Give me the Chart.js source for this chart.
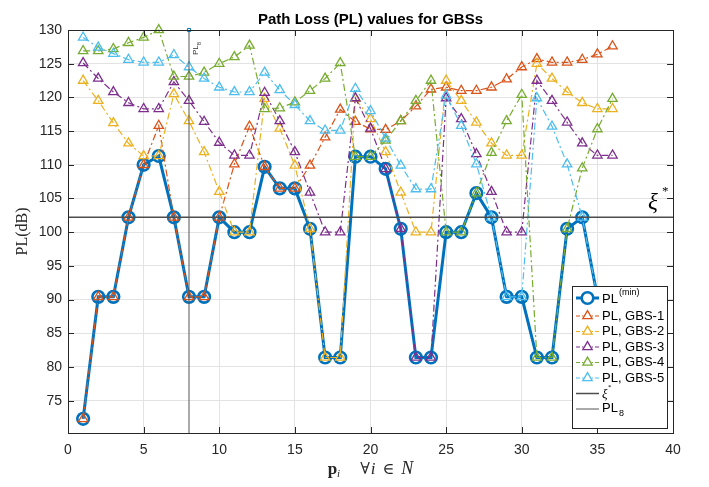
<!DOCTYPE html>
<html>
<head>
<meta charset="utf-8">
<script src="https://cdn.jsdelivr.net/npm/chart.js@4.4.1/dist/chart.umd.min.js"></script>
<style>
  html, body { margin: 0; padding: 0; background: #fff; }
  #wrap { width: 709px; height: 487px; }
</style>
</head>
<body>
<div id="wrap"><canvas id="plChart" width="709" height="487"></canvas></div>
<script>
// point index i (p_i)
const pointIdx = [1, 2, 3, 4, 5, 6, 7, 8, 9, 10, 11, 12, 13, 14, 15, 16, 17, 18,
                  19, 20, 21, 22, 23, 24, 25, 26, 27, 28, 29, 30, 31, 32, 33, 34, 35, 36];

const plMin = [72.3, 90.4, 90.4, 102.2, 110.0, 111.3, 102.2, 90.4, 90.4, 102.2, 100.0, 100.0,
               109.7, 106.5, 106.5, 100.5, 81.4, 81.4, 111.2, 111.2, 109.4, 100.5, 81.4, 81.4,
               100.0, 100.0, 105.8, 102.2, 90.4, 90.4, 81.4, 81.4, 100.5, 102.2, 90.4, 90.4];
const plGbs1 = [72.3, 90.4, 90.4, 102.2, 110.0, 115.8, 102.2, 90.4, 90.4, 102.2, 110.1, 115.7,
                109.7, 106.5, 106.5, 109.9, 114.1, 118.2, 116.4, 115.3, 115.2, 116.5, 118.7, 121.2,
                121.5, 121.0, 121.0, 121.5, 122.7, 124.5, 125.7, 125.2, 125.2, 125.6, 126.4, 127.6];
const plGbs2 = [122.5, 119.5, 116.2, 113.2, 111.3, 111.3, 120.5, 116.5, 111.9, 106.0, 100.0, 100.0,
                119.8, 115.4, 109.9, 100.5, 81.4, 81.4, 119.8, 116.8, 111.9, 105.9, 100.0, 100.0,
                122.5, 119.5, 116.3, 113.2, 111.4, 111.4, 125.0, 122.8, 120.8, 119.2, 118.3, 118.3];
const plGbs3 = [125.1, 122.8, 120.8, 119.2, 118.3, 118.3, 122.3, 119.5, 116.4, 113.3, 111.4, 111.4,
                120.7, 116.5, 111.9, 105.9, 100.0, 100.0, 119.9, 115.4, 109.4, 100.5, 81.4, 81.4,
                119.9, 116.8, 111.6, 106.0, 100.0, 100.0, 122.5, 119.5, 116.3, 113.2, 111.4, 111.4];
const plGbs4 = [126.9, 126.9, 127.2, 128.1, 128.9, 130.0, 123.1, 123.1, 123.7, 125.0, 126.0, 127.7,
                118.3, 118.4, 119.3, 121.0, 122.8, 125.1, 111.2, 111.2, 113.6, 116.5, 119.5, 122.5,
                100.0, 100.0, 105.8, 111.8, 116.5, 120.4, 81.4, 81.4, 100.5, 109.5, 115.3, 119.8];
const plGbs5 = [128.9, 127.4, 126.5, 125.6, 125.2, 125.2, 126.3, 124.5, 122.8, 121.5, 120.8, 120.8,
                123.7, 121.1, 118.9, 116.5, 115.1, 115.1, 121.3, 118.0, 113.9, 109.9, 106.4, 106.4,
                120.3, 115.8, 110.1, 102.2, 90.4, 90.4, 119.9, 115.7, 110.1, 102.2, 90.4, 90.4];

const xiStar = 102.2;     // threshold line
const pl8Index = 8;       // vertical line at p_8
const xTicks = [0, 5, 10, 15, 20, 25, 30, 35, 40];
const yTicks = [75, 80, 85, 90, 95, 100, 105, 110, 115, 120, 125, 130];
const xRange = [0, 40];
const yRange = [70.2, 130];

const gbsNames = ["PL, GBS-1", "PL, GBS-2", "PL, GBS-3", "PL, GBS-4", "PL, GBS-5"];
const gbsColors = ["#D95319", "#EDB120", "#7E2F8E", "#77AC30", "#4DBEEE"];
const gbsSeries = [plGbs1, plGbs2, plGbs3, plGbs4, plGbs5];
const minColor = "#0072BD";
const dashDot = [7, 3, 2, 3];

const sansFont = "'Liberation Sans', Arial, Helvetica, sans-serif";
const serifFont = "'Liberation Serif', 'DejaVu Serif', serif";
const axisColor = "#262626";

function toPoints(values) {
    return values.map((v, i) => ({ x: pointIdx[i], y: v }));
}

const datasets = [
    {
        label: "PL(min)",
        data: toPoints(plMin),
        borderColor: minColor,
        borderWidth: 3,
        pointStyle: "circle",
        pointRadius: 5.8,
        pointBorderWidth: 2.6,
        pointBackgroundColor: "rgba(0,0,0,0)",
        pointBorderColor: minColor,
        order: 10,
        clip: false,
    },
];
gbsSeries.forEach((vals, k) => {
    datasets.push({
        label: gbsNames[k],
        data: toPoints(vals),
        borderColor: gbsColors[k],
        borderWidth: 1.2,
        borderDash: dashDot,
        pointStyle: "triangle",
        pointRadius: 5.4,
        pointBorderWidth: 1.3,
        pointBackgroundColor: "rgba(0,0,0,0)",
        pointBorderColor: gbsColors[k],
        order: 9 - k,
        clip: false,
    });
});
datasets.push({
    label: "xi",
    data: [{ x: xRange[0], y: xiStar }, { x: xRange[1], y: xiStar }],
    borderColor: "#4d4d4d",
    borderWidth: 1.5,
    pointRadius: 0,
    order: 1,
});
datasets.push({
    label: "PL8",
    data: [{ x: pl8Index, y: yRange[0] }, { x: pl8Index, y: yRange[1] }],
    borderColor: "#555555",
    borderWidth: 1,
    pointStyle: "rect",
    pointRadius: [0, 2.2],
    pointBorderWidth: 1,
    pointBorderColor: minColor,
    pointBackgroundColor: "#ffffff",
    order: 0,
    clip: false,
});

// draw one legend sample (line + marker)
function legendSample(ctx, x0, x1, y, color, width, dash, marker) {
    ctx.save();
    ctx.strokeStyle = color;
    ctx.lineWidth = width;
    ctx.setLineDash(dash);
    ctx.beginPath();
    ctx.moveTo(x0, y);
    ctx.lineTo(x1, y);
    ctx.stroke();
    ctx.setLineDash([]);
    const cx = (x0 + x1) / 2;
    if (marker === "circle") {
        ctx.fillStyle = "#fff";
        ctx.lineWidth = 2.6;
        ctx.beginPath();
        ctx.arc(cx, y, 5.8, 0, Math.PI * 2);
        ctx.fill();
        ctx.stroke();
    } else if (marker === "triangle") {
        const r = 5.4;
        ctx.fillStyle = "#fff";
        ctx.lineWidth = 1.3;
        ctx.beginPath();
        let rad = 0;
        ctx.moveTo(cx + Math.sin(rad) * r, y - Math.cos(rad) * r);
        rad += 2 * Math.PI / 3;
        ctx.lineTo(cx + Math.sin(rad) * r, y - Math.cos(rad) * r);
        rad += 2 * Math.PI / 3;
        ctx.lineTo(cx + Math.sin(rad) * r, y - Math.cos(rad) * r);
        ctx.closePath();
        ctx.fill();
        ctx.stroke();
    }
    ctx.restore();
}

const decorPlugin = {
    id: "decor",
    afterDraw(chart) {
        const ctx = chart.ctx;
        const area = chart.chartArea;
        const xs = chart.scales.x;
        const ys = chart.scales.y;
        ctx.save();

        // box + inward ticks on all four sides
        ctx.strokeStyle = axisColor;
        ctx.lineWidth = 1;
        ctx.strokeRect(area.left + 0.5, area.top + 0.5, area.right - area.left, area.bottom - area.top);
        ctx.beginPath();
        xTicks.forEach((v) => {
            const px = Math.round(xs.getPixelForValue(v)) + 0.5;
            ctx.moveTo(px, area.bottom);
            ctx.lineTo(px, area.bottom - 6);
            ctx.moveTo(px, area.top);
            ctx.lineTo(px, area.top + 6);
        });
        yTicks.forEach((v) => {
            const py = Math.round(ys.getPixelForValue(v)) + 0.5;
            ctx.moveTo(area.left, py);
            ctx.lineTo(area.left + 6, py);
            ctx.moveTo(area.right, py);
            ctx.lineTo(area.right - 6, py);
        });
        ctx.stroke();

        // title
        ctx.fillStyle = "#000";
        ctx.font = "bold 15px " + sansFont;
        ctx.textAlign = "center";
        ctx.textBaseline = "alphabetic";
        ctx.fillText("Path Loss (PL) values for GBSs", (area.left + area.right) / 2, 24);

        // y axis label
        ctx.save();
        ctx.translate(27, (area.top + area.bottom) / 2);
        ctx.rotate(-Math.PI / 2);
        ctx.font = "16px " + serifFont;
        ctx.fillStyle = axisColor;
        ctx.textAlign = "center";
        ctx.fillText("PL(dB)", 0, 0);
        ctx.restore();

        // x axis label: p_i  ∀i ∈ N
        const xl = (area.left + area.right) / 2;
        const base = 474;
        ctx.fillStyle = axisColor;
        ctx.textAlign = "left";
        const parts = [
            { t: "p", f: "bold 17px " + serifFont, dy: 0, gap: 0 },
            { t: "i", f: "italic 11px " + serifFont, dy: 3, gap: 20 },
            { t: "\u2200", f: "16px 'DejaVu Serif', serif", dy: 0, gap: 1 },
            { t: "i", f: "italic 17px " + serifFont, dy: 0, gap: 7 },
            { t: "\u2208", f: "16px 'DejaVu Serif', serif", dy: 0, gap: 7 },
            { t: "N", f: "italic 18px " + serifFont, dy: 0, gap: 0 },
        ];
        let total = 0;
        parts.forEach((p) => { ctx.font = p.f; total += ctx.measureText(p.t).width + p.gap; });
        let cx = xl - total / 2;
        parts.forEach((p) => {
            ctx.font = p.f;
            ctx.fillText(p.t, cx, base + p.dy);
            cx += ctx.measureText(p.t).width + p.gap;
        });

        // xi* label at right end of the threshold line
        const yXi = ys.getPixelForValue(xiStar);
        ctx.fillStyle = "#000";
        ctx.font = "italic 23px " + serifFont;
        ctx.fillText("\u03BE", 648, yXi - 8);
        ctx.font = "13px " + serifFont;
        ctx.fillText("*", 662, yXi - 22);

        // PL_8 label next to the vertical line
        const x8 = xs.getPixelForValue(pl8Index);
        ctx.save();
        ctx.translate(x8 + 9, area.top + 25);
        ctx.rotate(-Math.PI / 2);
        ctx.fillStyle = "#333";
        ctx.font = "8px " + sansFont;
        ctx.fillText("PL", 0, 0);
        const wPL = ctx.measureText("PL").width;
        ctx.font = "6px " + sansFont;
        ctx.fillText("8", wPL, 2.5);
        ctx.restore();

        // legend box
        const lb = { l: 572, t: 286, r: 667, b: 428 };
        ctx.fillStyle = "#fff";
        ctx.fillRect(lb.l, lb.t, lb.r - lb.l, lb.b - lb.t);
        ctx.strokeStyle = axisColor;
        ctx.lineWidth = 1;
        ctx.strokeRect(lb.l + 0.5, lb.t + 0.5, lb.r - lb.l, lb.b - lb.t);

        const sx0 = 576, sx1 = 599, tx = 602;
        ctx.textBaseline = "middle";
        ctx.fillStyle = "#000";
        // PL(min)
        let ry = 298;
        legendSample(ctx, sx0, sx1, ry, minColor, 3, [], "circle");
        ctx.fillStyle = "#000";
        ctx.font = "13px " + sansFont;
        ctx.fillText("PL", tx, ry + 1);
        let w = ctx.measureText("PL").width;
        ctx.font = "9px " + sansFont;
        ctx.fillText("(min)", tx + w + 1, ry - 5);
        // GBS rows
        gbsNames.forEach((name, k) => {
            ry = 316 + 15.5 * k;
            legendSample(ctx, sx0, sx1, ry, gbsColors[k], 1.2, [4, 2, 1.5, 2], "triangle");
            ctx.fillStyle = "#000";
            ctx.font = "13px " + sansFont;
            ctx.fillText(name, tx, ry);
        });
        // xi*
        ry = 316 + 15.5 * 5;
        legendSample(ctx, sx0, sx1, ry, "#4d4d4d", 1.5, [], null);
        ctx.fillStyle = "#000";
        ctx.font = "italic 13px " + serifFont;
        ctx.fillText("\u03BE", tx, ry + 1);
        ctx.font = "7px " + serifFont;
        ctx.fillText("*", tx + 6, ry - 6);
        // PL_8
        ry = 316 + 15.5 * 6;
        legendSample(ctx, sx0, sx1, ry, "#555555", 1, [], null);
        ctx.fillStyle = "#000";
        ctx.font = "13px " + sansFont;
        ctx.fillText("PL", tx, ry - 1);
        w = ctx.measureText("PL").width;
        ctx.font = "9px " + sansFont;
        ctx.fillText("8", tx + w + 1, ry + 5);

        ctx.restore();
    },
};

new Chart(document.getElementById("plChart"), {
    type: "line",
    data: { datasets: datasets },
    options: {
        responsive: false,
        animation: false,
        devicePixelRatio: 1,
        layout: { padding: { left: 28, right: 36, top: 30, bottom: 24 } },
        plugins: {
            legend: { display: false },
            title: { display: false },
            tooltip: { enabled: false },
        },
        scales: {
            x: {
                type: "linear",
                min: xRange[0],
                max: xRange[1],
                afterBuildTicks: (scale) => { scale.ticks = xTicks.map((v) => ({ value: v })); },
                afterFit: (scale) => { scale.height = 30; },
                ticks: { color: axisColor, font: { family: sansFont, size: 14 }, padding: 9, maxRotation: 0 },
                grid: { color: "#e3e3e3", lineWidth: 1, drawTicks: false },
                border: { display: false },
            },
            y: {
                type: "linear",
                min: yRange[0],
                max: yRange[1],
                afterBuildTicks: (scale) => { scale.ticks = yTicks.map((v) => ({ value: v })); },
                afterFit: (scale) => { scale.width = 40; },
                ticks: { color: axisColor, font: { family: sansFont, size: 14 }, padding: 6 },
                grid: { color: "#e3e3e3", lineWidth: 1, drawTicks: false },
                border: { display: false },
            },
        },
    },
    plugins: [decorPlugin],
});
</script>
</body>
</html>
